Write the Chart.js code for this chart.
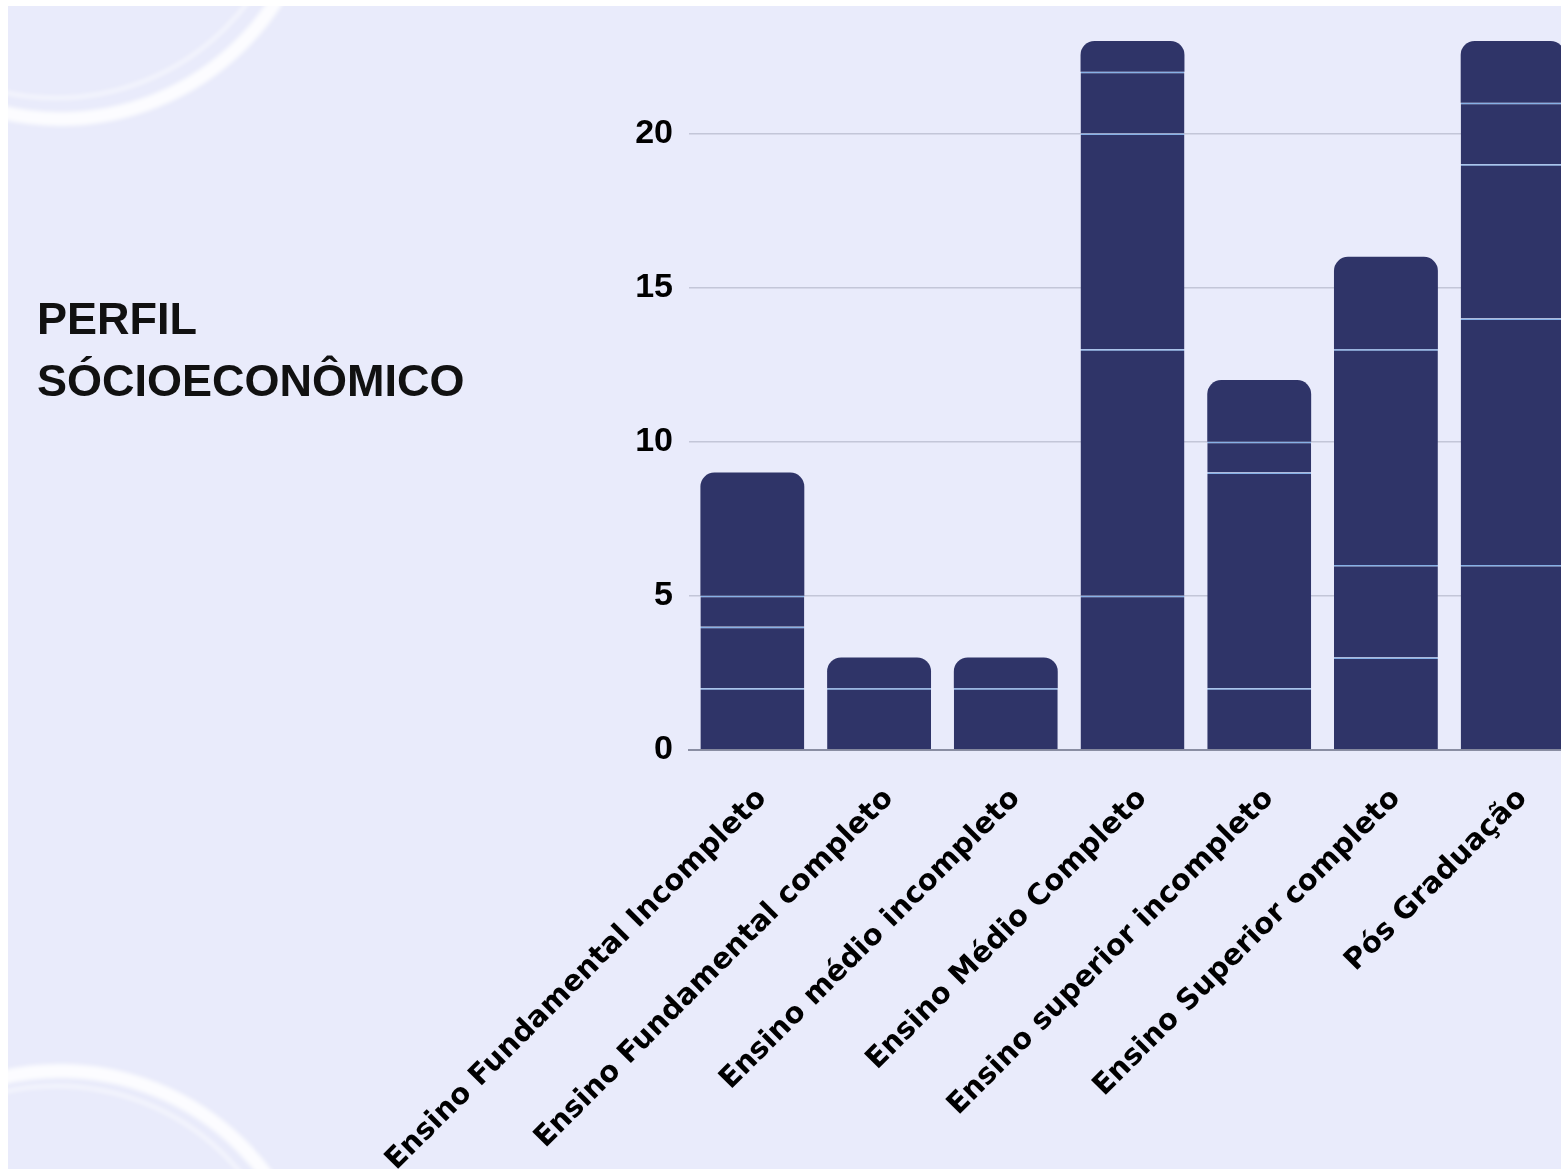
<!DOCTYPE html>
<html>
<head>
<meta charset="utf-8">
<script src="https://cdn.jsdelivr.net/npm/chart.js@4/dist/chart.umd.min.js"></script>
<style>
  html, body { margin:0; padding:0; width:1561px; height:1169px; overflow:hidden; background:#ffffff; }
  #panel { position:absolute; left:8px; top:6px; width:1600px; height:1200px; background:#e9ebfb; overflow:hidden; }
  .ring { position:absolute; border-radius:50%; border-style:solid; border-color:rgba(255,255,255,0.85); filter:blur(2px); }
  #title { position:absolute; z-index:2; left:29px; top:282px; font-family:"Liberation Sans", Arial, sans-serif; font-weight:700; font-size:45px; line-height:62px; color:#111111; }
  #wrap { position:absolute; z-index:1; left:292px; top:-6px; width:1300px; height:1175px; }
</style>
</head>
<body>
<div id="panel">
  <div class="ring" style="left:-212px; top:-408px; width:500px; height:500px; border-width:14px;"></div>
  <div class="ring" style="left:-194px; top:-390px; width:476px; height:476px; border-width:4px; border-color:rgba(255,255,255,0.55);"></div>
  <div class="ring" style="left:-212px; top:1058px; width:500px; height:500px; border-width:14px;"></div>
  <div class="ring" style="left:-194px; top:1078px; width:476px; height:476px; border-width:4px; border-color:rgba(255,255,255,0.55);"></div>
  <div id="title">PERFIL<br>SÓCIOECONÔMICO</div>
  <div id="wrap"><canvas id="c"></canvas></div>
</div>
<script>
const categories = [
  "Ensino Fundamental Incompleto",
  "Ensino Fundamental completo",
  "Ensino médio incompleto",
  "Ensino Médio Completo",
  "Ensino superior incompleto",
  "Ensino Superior completo",
  "Pós Graduação"
];
// stacked segments, bottom to top
const segment1 = [2, 2, 2, 5, 2, 3, 6];
const segment2 = [2, 1, 1, 8, 7, 3, 8];
const segment3 = [1, 0, 0, 7, 1, 7, 5];
const segment4 = [4, 0, 0, 2, 2, 3, 2];
const segment5 = [0, 0, 0, 1, 0, 0, 2];
const yTicks = [0, 5, 10, 15, 20];
const yMax = 23;

const segments = [segment1, segment2, segment3, segment4, segment5];
const barColor = '#2f3468';
const lineColor = '#86b0e6';

function isTopOfStack(ctx) {
  const i = ctx.dataIndex, d = ctx.datasetIndex;
  for (let k = d + 1; k < segments.length; k++) if (segments[k][i] > 0) return false;
  return true;
}

const datasets = segments.map((s, idx) => ({
  label: 'Segmento ' + (idx + 1),
  data: s,
  backgroundColor: barColor,
  borderColor: lineColor,
  borderWidth: ctx => isTopOfStack(ctx) ? 0 : {top: 1.5, left: 0, right: 0, bottom: 0},
  borderSkipped: 'start',
  borderRadius: 14,
  barPercentage: 0.82,
  categoryPercentage: 1.0
}));

new Chart(document.getElementById('c'), {
  type: 'bar',
  data: { labels: categories, datasets },
  options: {
    responsive: true,
    maintainAspectRatio: false,
    animation: false,
    layout: { padding: { top: 41, right: 24, left: 0, bottom: 0 } },
    plugins: { legend: { display: false }, tooltip: { enabled: false }, title: { display: false } },
    scales: {
      x: {
        stacked: true,
        grid: { display: false },
        border: { display: true, color: '#8a8ea3', width: 2 },
        ticks: {
          autoSkip: false,
          minRotation: 45,
          maxRotation: 45,
          padding: 20,
          labelOffset: 10,
          color: '#000000',
          font: { family: 'DejaVu Sans', weight: 'bold', size: 29, lineHeight: 1.57 }
        },
        afterFit: s => { s.height = 425; s.paddingLeft = 0; s.paddingRight = 0; }
      },
      y: {
        stacked: true,
        min: 0,
        max: yMax,
        grid: { color: '#c3c6d8', lineWidth: 1.5, drawTicks: false },
        border: { display: false },
        ticks: {
          stepSize: 5,
          padding: 16,
          color: '#000000',
          font: { family: 'Liberation Sans', weight: 'bold', size: 34 }
        },
        afterBuildTicks: axis => { axis.ticks = yTicks.map(v => ({ value: v })); },
        afterFit: s => { s.width = 389; s.paddingTop = 0; s.paddingBottom = 0; }
      }
    }
  }
});
</script>
</body>
</html>
